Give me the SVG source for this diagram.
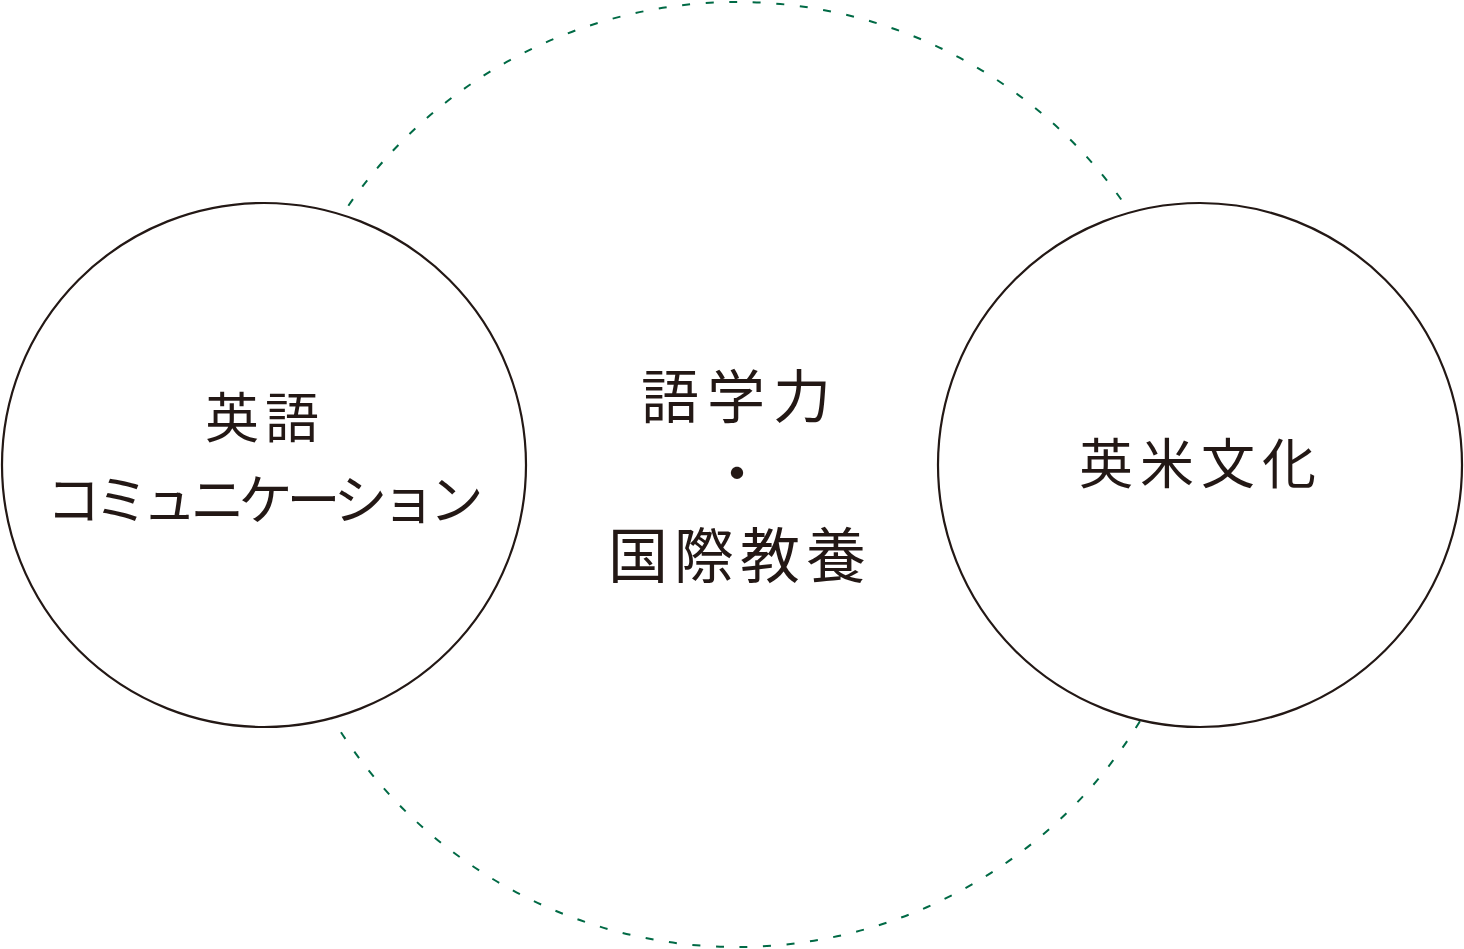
<svg xmlns="http://www.w3.org/2000/svg" width="1464" height="949" viewBox="0 0 1464 949">
<style>
.ring{fill:none;stroke:#006a45;stroke-width:2;stroke-dasharray:8 15.6}
.node{fill:#ffffff;stroke:#231815;stroke-width:2.2}
.t{font-family:"Noto Sans CJK JP","Noto Sans CJK SC",sans-serif;fill:#231815;font-weight:400}
</style>
<rect width="1464" height="949" fill="#ffffff"/>
<g id="connectors">
<circle class="ring" cx="737" cy="474.5" r="472.5"/>
</g>
<g id="center">
<text class="t" x="740" y="418" font-size="58" letter-spacing="8" text-anchor="middle">語学力</text>
<text class="t" x="737" y="495" font-size="58" text-anchor="middle">・</text>
<text class="t" x="740" y="578" font-size="60" letter-spacing="6" text-anchor="middle">国際教養</text>
</g>
<g id="left">
<circle class="node" cx="264" cy="465" r="262"/>
<text class="t" x="265" y="438" font-size="54" letter-spacing="6" text-anchor="middle">英語</text>
<text class="t" x="262" y="520" font-size="54" letter-spacing="-6" text-anchor="middle">コミュニケーション</text>
</g>
<g id="right">
<circle class="node" cx="1200" cy="465" r="262"/>
<text class="t" x="1201" y="484" font-size="54" letter-spacing="7" text-anchor="middle">英米文化</text>
</g>
</svg>
